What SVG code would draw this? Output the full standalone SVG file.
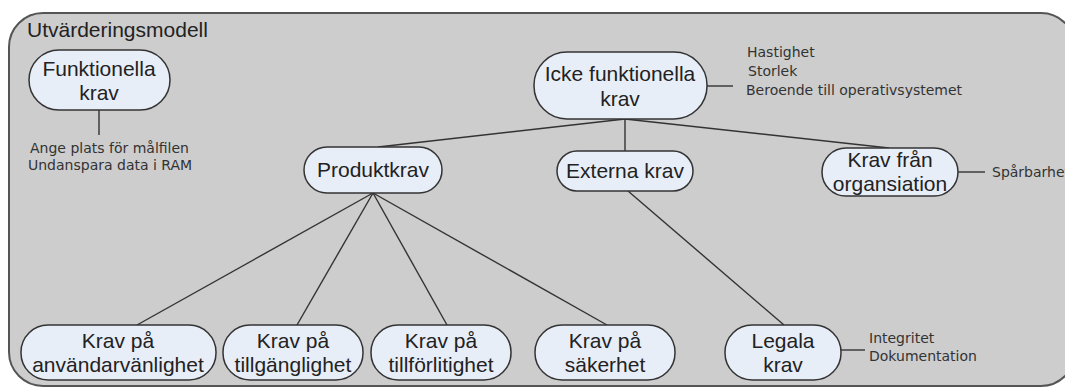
<svg xmlns="http://www.w3.org/2000/svg" width="1065" height="388" viewBox="0 0 1065 388">
<style>
.node{fill:#e8eef8;stroke:#333;stroke-width:1.5}
.big{font-family:'Liberation Sans',Arial,sans-serif;font-size:21px;fill:#222;text-anchor:middle}
.small{font-family:'DejaVu Sans',Verdana,sans-serif;font-size:14px;fill:#333}
.conn line{stroke:#333;stroke-width:1.4}
</style>
<rect width="1065" height="388" fill="#ffffff"/>
<g id="frame">
<rect x="9" y="13" width="1066" height="373" rx="34" fill="#cdcdcd" stroke="#555" stroke-width="2"/>
<text x="27" y="37" font-family="'Liberation Sans',Arial,sans-serif" font-size="21" fill="#222">Utvärderingsmodell</text>
</g>
<g class="conn" id="connectors">
<line x1="99" y1="110" x2="99" y2="135"/>
<line x1="707" y1="86" x2="733" y2="86"/>
<line x1="625" y1="119" x2="378" y2="147"/>
<line x1="625" y1="119" x2="625" y2="151"/>
<line x1="625" y1="119" x2="889" y2="148"/>
<line x1="958" y1="172" x2="985" y2="172"/>
<line x1="373" y1="193" x2="137" y2="325"/>
<line x1="373" y1="193" x2="297" y2="325"/>
<line x1="373" y1="193" x2="447" y2="325"/>
<line x1="373" y1="193" x2="607" y2="325"/>
<line x1="628" y1="191" x2="784" y2="325"/>
<line x1="841" y1="350" x2="865" y2="350"/>
</g>
<g id="n-funktionella">
<rect class="node" x="29" y="50" width="141" height="60" rx="30"/>
<text class="big" x="99" y="76">Funktionella</text>
<text class="big" x="99" y="100">krav</text>
<text class="small" x="30" y="153">Ange plats för målfilen</text>
<text class="small" x="28" y="170">Undanspara data i RAM</text>
</g>
<g id="n-icke">
<rect class="node" x="534" y="52" width="173" height="67" rx="33"/>
<text class="big" x="620" y="81">Icke funktionella</text>
<text class="big" x="620" y="106">krav</text>
<text class="small" x="747" y="57">Hastighet</text>
<text class="small" x="748" y="76">Storlek</text>
<text class="small" x="746" y="95">Beroende till operativsystemet</text>
</g>
<g id="n-produktkrav">
<rect class="node" x="304" y="147" width="138" height="46" rx="23"/>
<text class="big" x="373" y="177">Produktkrav</text>
</g>
<g id="n-externa">
<rect class="node" x="557" y="151" width="136" height="40" rx="20"/>
<text class="big" x="625" y="178">Externa krav</text>
</g>
<g id="n-organisation">
<rect class="node" x="822" y="148" width="136" height="48" rx="24"/>
<text class="big" x="890" y="167">Krav från</text>
<text class="big" x="890" y="191">organsiation</text>
<text class="small" x="992" y="177">Spårbarhet</text>
</g>
<g id="n-anvandar">
<rect class="node" x="21" y="325" width="195" height="55" rx="27"/>
<text class="big" x="118" y="348">Krav på</text>
<text class="big" x="118" y="372">användarvänlighet</text>
</g>
<g id="n-tillgang">
<rect class="node" x="223" y="325" width="140" height="55" rx="27"/>
<text class="big" x="293" y="348">Krav på</text>
<text class="big" x="293" y="372">tillgänglighet</text>
</g>
<g id="n-tillfor">
<rect class="node" x="371" y="325" width="140" height="55" rx="27"/>
<text class="big" x="441" y="348">Krav på</text>
<text class="big" x="441" y="372">tillförlitighet</text>
</g>
<g id="n-sakerhet">
<rect class="node" x="535" y="325" width="140" height="55" rx="27"/>
<text class="big" x="605" y="348">Krav på</text>
<text class="big" x="605" y="372">säkerhet</text>
</g>
<g id="n-legala">
<rect class="node" x="725" y="325" width="116" height="55" rx="27"/>
<text class="big" x="783" y="348">Legala</text>
<text class="big" x="783" y="372">krav</text>
<text class="small" x="869" y="343">Integritet</text>
<text class="small" x="869" y="361">Dokumentation</text>
</g>
</svg>
